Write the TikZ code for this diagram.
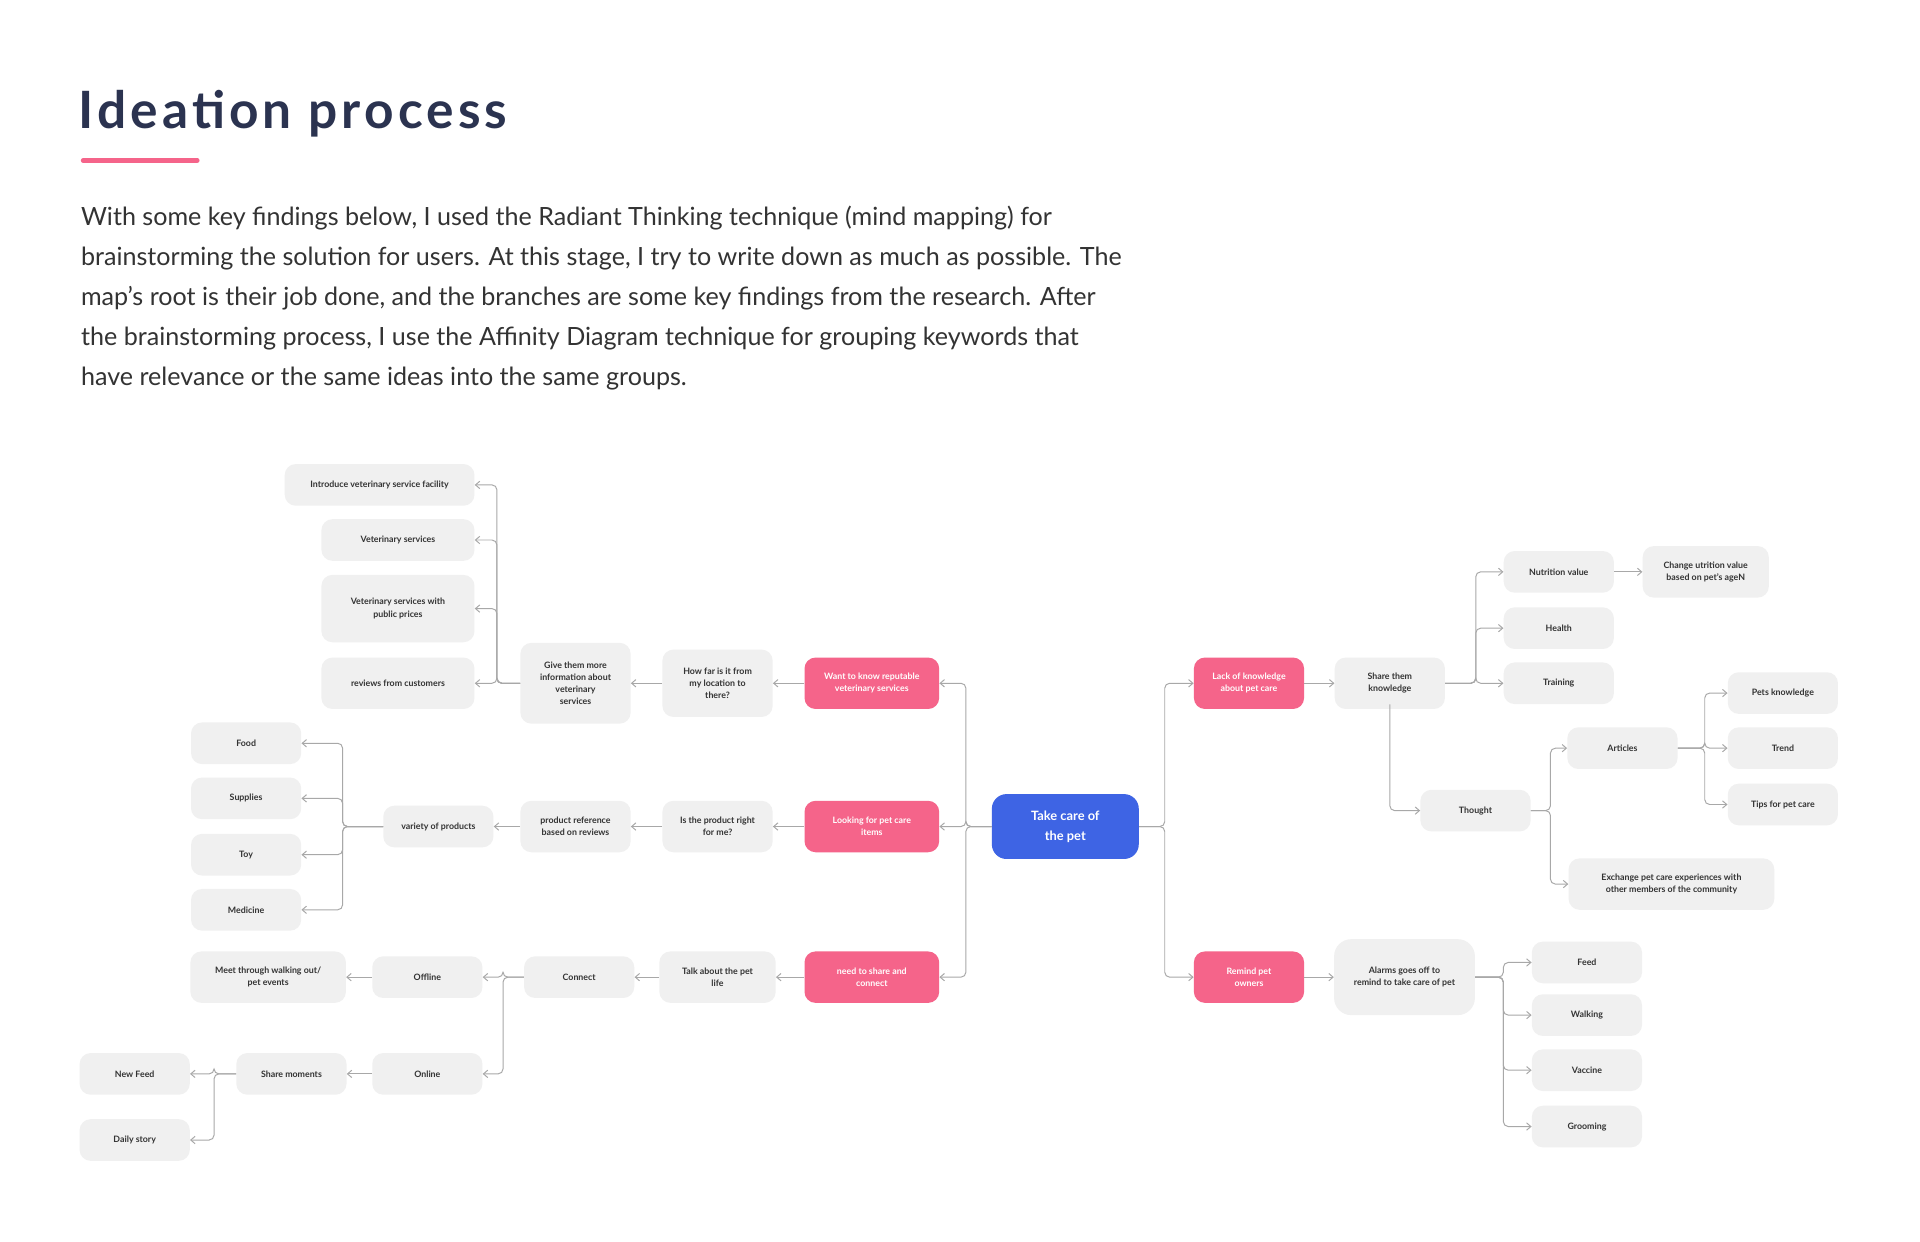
\documentclass[tikz,border=0pt]{standalone}
\usepackage{fontspec}
\setmainfont{Lato}
\usetikzlibrary{arrows.meta}
\definecolor{bg}{HTML}{F0F0F0}
\definecolor{pk}{HTML}{F5648A}
\definecolor{bl}{HTML}{3E64E4}
\definecolor{ttl}{HTML}{2B3350}
\definecolor{ln}{HTML}{A8A8A8}
\definecolor{tx}{HTML}{333333}
\begin{document}
\begin{tikzpicture}[x=1pt,y=-1pt,
 box/.style={rounded corners=9pt, fill=bg, minimum height=34pt, minimum width=90pt, inner sep=2pt, font=\fontsize{7.2}{10}\selectfont\bfseries, text=tx, align=center},
 pink/.style={box, fill=pk, text=white, minimum height=42pt, minimum width=110pt},
 conn/.style={draw=ln, line width=0.8pt, rounded corners=4pt, -{Straight Barb[length=3.5pt,width=6pt]}}]
\useasboundingbox (0,0) rectangle (1568,1014);
\fill[white] (0,0) rectangle (1568,1014);
% title
\node[anchor=base west, inner sep=0, text=ttl, font=\fontsize{42}{46}\selectfont\bfseries\addfontfeature{LetterSpace=8}] (title) at (64,105) {Ideation process};
\draw[pk, line width=4pt, line cap=round] (68,131) -- (161,131);
\node[anchor=north west, inner sep=0, text=tx, align=left, font=\fontsize{20.5}{32.7}\selectfont] (para) at (66,168) {With some key findings below, I used the Radiant Thinking technique (mind mapping) for\\brainstorming the solution for users. At this stage, I try to write down as much as possible. The\\map's root is their job done, and the branches are some key findings from the research. After\\the brainstorming process, I use the Affinity Diagram technique for grouping keywords that\\have relevance or the same ideas into the same groups.};
% center
\node[box, fill=bl, text=white, minimum width=120pt, minimum height=53pt, rounded corners=12pt, font=\fontsize{10.5}{16}\selectfont\bfseries] (c) at (870,675) {Take care of\\the pet};
\node[pink] (p1) at (712,558) {Want to know reputable\\veterinary services};
\node[pink] (p2) at (712,675) {Looking for pet care\\items};
\node[pink] (p3) at (712,798) {need to share and\\connect};
\node[pink, minimum width=90pt] (p4) at (1020,558) {Lack of knowledge\\about pet care};
\node[pink, minimum width=90pt] (p5) at (1020,798) {Remind pet\\owners};
% branch 1
\node[box, minimum height=55pt] (hf) at (586,558) {How far is it from\\my location to\\there?};
\node[box, minimum height=66pt] (gi) at (470,558) {Give them more\\information about\\veterinary\\services};
\node[box, minimum width=155pt] (l1) at (310,396) {Introduce veterinary service facility};
\node[box, minimum width=125pt] (l2) at (325,441) {Veterinary services};
\node[box, minimum width=125pt, minimum height=55pt] (l3) at (325,497) {Veterinary services with\\public prices};
\node[box, minimum width=125pt, minimum height=42pt] (l4) at (325,558) {reviews from customers};
% branch 2
\node[box, minimum height=42pt] (ip) at (586,675) {Is the product right\\for me?};
\node[box, minimum height=42pt] (pr) at (470,675) {product reference\\based on reviews};
\node[box] (vp) at (358,675) {variety of products};
\node[box] (fo) at (201,607) {Food};
\node[box] (su) at (201,652) {Supplies};
\node[box] (to) at (201,698) {Toy};
\node[box] (me) at (201,743) {Medicine};
% branch 3
\node[box, minimum width=95pt, minimum height=42pt] (ta) at (586,798) {Talk about the pet\\life};
\node[box] (co) at (473,798) {Connect};
\node[box] (of) at (349,798) {Offline};
\node[box] (on) at (349,877) {Online};
\node[box, minimum width=127pt, minimum height=42pt] (mt) at (219,798) {Meet through walking out/\\pet events};
\node[box] (sm) at (238,877) {Share moments};
\node[box] (nf) at (110,877) {New Feed};
\node[box] (ds) at (110,931) {Daily story};
% right 1
\node[box, minimum height=42pt] (sk) at (1135,558) {Share them\\knowledge};
\node[box] (nv) at (1273,467) {Nutrition value};
\node[box] (he) at (1273,513) {Health};
\node[box] (tr) at (1273,558) {Training};
\node[box, minimum width=103pt, minimum height=42pt] (cu) at (1393,467) {Change utrition value\\based on pet's ageN};
\node[box] (th) at (1205,662) {Thought};
\node[box] (ar) at (1325,611) {Articles};
\node[box, minimum width=168pt, minimum height=42pt] (ex) at (1365,722) {Exchange pet care experiences with\\other members of the community};
\node[box] (pk1) at (1456,566) {Pets knowledge};
\node[box] (trd) at (1456,611) {Trend};
\node[box] (tp) at (1456,657) {Tips for pet care};
% right 2
\node[box, minimum width=115pt, minimum height=62pt, rounded corners=14pt] (al) at (1147,798) {Alarms goes off to\\remind to take care of pet};
\node[box] (fe) at (1296,786) {Feed};
\node[box] (wa) at (1296,829) {Walking};
\node[box] (va) at (1296,874) {Vaccine};
\node[box] (gr) at (1296,920) {Grooming};
% connectors left
\foreach \t in {p1,p2,p3} \draw[conn] (c.west) -- ++(-21,0) |- (\t.east);
\draw[conn] (p1.west) -- (hf.east);
\draw[conn] (hf.west) -- (gi.east);
\foreach \t in {l1,l2,l3,l4} \draw[conn] (gi.west) -- ++(-19,0) |- (\t.east);
\draw[conn] (p2.west) -- (ip.east);
\draw[conn] (ip.west) -- (pr.east);
\draw[conn] (pr.west) -- (vp.east);
\foreach \t in {fo,su,to,me} \draw[conn] (vp.west) -- ++(-33,0) |- (\t.east);
\draw[conn] (p3.west) -- (ta.east);
\draw[conn] (ta.west) -- (co.east);
\foreach \t in {of,on} \draw[conn] (co.west) -- ++(-17,0) |- (\t.east);
\draw[conn] (of.west) -- (mt.east);
\draw[conn] (on.west) -- (sm.east);
\foreach \t in {nf,ds} \draw[conn] (sm.west) -- ++(-18,0) |- (\t.east);
% connectors right
\foreach \t in {p4,p5} \draw[conn] (c.east) -- ++(21,0) |- (\t.west);
\draw[conn] (p4.east) -- (sk.west);
\foreach \t in {nv,he,tr} \draw[conn] (sk.east) -- ++(25,0) |- (\t.west);
\draw[conn] (nv.east) -- (cu.west);
\draw[conn] (sk.south) -- ++(0,0) |- (th.west);
\foreach \t in {ar,ex} \draw[conn] (th.east) -- ++(16,0) |- (\t.west);
\foreach \t in {pk1,trd,tp} \draw[conn] (ar.east) -- ++(22,0) |- (\t.west);
\draw[conn] (p5.east) -- (al.west);
\foreach \t in {fe,wa,va,gr} \draw[conn] (al.east) -- ++(23,0) |- (\t.west);
\end{tikzpicture}
\end{document}
